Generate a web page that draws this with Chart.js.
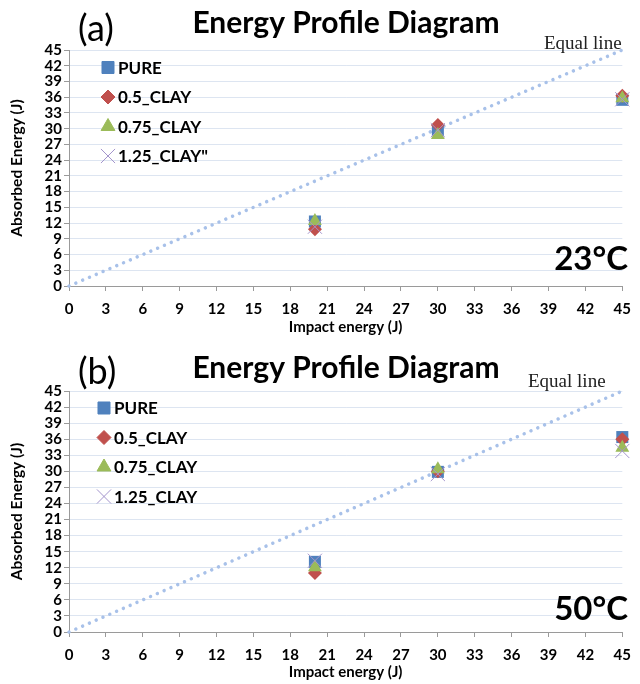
<!DOCTYPE html>
<html>
<head>
  <title>Energy Profile Diagram</title>
  <script src="https://cdn.jsdelivr.net/npm/chart.js@4.4.1/dist/chart.umd.min.js"></script>
  <style>
    body { margin: 0; background: #fff; }
    .wrap { position: relative; width: 640px; height: 684px; }
    canvas { position: absolute; left: 0; }
  </style>
</head>
<body>
<div class="wrap">
  <canvas id="chartA" width="640" height="342" style="top:0"></canvas>
  <canvas id="chartB" width="640" height="342" style="top:342px"></canvas>
</div>
<script>
// impact energy levels (x)
const impactEnergy = [20, 30, 45];

// (a) 23°C absorbed energy
const pureA    = [12.3, 29.7, 35.5];
const clay05A  = [10.8, 30.7, 36.3];
const clay075A = [12.4, 28.8, 35.8];
const clay125A = [11.3, 29.7, 35.6];

// (b) 50°C absorbed energy
const pureB    = [13.1, 29.9, 36.4];
const clay05B  = [11.0, 30.0, 36.0];
const clay075B = [12.1, 30.4, 34.4];
const clay125B = [13.3, 29.5, 33.8];

const equalLine = [0, 45];
const axisTicks = { min: 0, max: 45, step: 3 };

const FONT = 'Lato';

const seriesStyle = [
  { name: 'PURE',      style: 'rect',     color: '#4f81bd', r: 8.5, order: 4 },
  { name: '0.5_CLAY',  style: 'rectRot',  color: '#c0504d', r: 7,   order: 3 },
  { name: '0.75_CLAY', style: 'triangle', color: '#9bbb59', r: 8,   order: 2 },
  { name: '1.25_CLAY', style: 'crossRot', color: '#a394cc', r: 10,  order: 1 }
];

function pts(ys) {
  return impactEnergy.map((x, i) => ({ x: x, y: ys[i] }));
}

function drawMark(ctx, s, x, y) {
  ctx.save();
  ctx.fillStyle = s.color;
  ctx.strokeStyle = s.color;
  ctx.lineWidth = 1;
  Chart.helpers.drawPoint(ctx, { pointStyle: s.style, radius: s.r, rotation: 0, borderWidth: 1 }, x, y);
  ctx.restore();
}

// draws titles, tags, legend
const decoPlugin = {
  id: 'deco',
  afterDraw(chart, args, o) {
    const ctx = chart.ctx;
    ctx.save();
    ctx.fillStyle = '#000';
    ctx.textBaseline = 'middle';

    ctx.font = '36px ' + FONT;
    ctx.textAlign = 'left';
    ctx.fillText(o.tag, 78, o.tagY);

    ctx.font = 'bold 30px ' + FONT;
    ctx.textAlign = 'center';
    ctx.fillText('Energy Profile Diagram', 346, o.titleY);

    ctx.font = '19px "Liberation Serif"';
    ctx.textAlign = 'left';
    ctx.fillStyle = '#222';
    ctx.fillText('Equal line', o.eqX, o.eqY);

    ctx.font = 'bold 33px ' + FONT;
    ctx.textAlign = 'right';
    ctx.fillStyle = '#000';
    ctx.fillText(o.temp, 628, o.tempY);

    // legend
    ctx.font = 'bold 17px ' + FONT;
    ctx.textAlign = 'left';
    o.legend.forEach((txt, i) => {
      const s = seriesStyle[i];
      const y = o.legY + i * 29.5;
      drawMark(ctx, s, o.legX, y);
      ctx.fillStyle = '#000';
      ctx.fillText(txt, o.legX + 10, y + 1);
    });
    ctx.restore();
  }
};

function makeChart(id, sets, deco, layout) {
  const datasets = seriesStyle.map((s, i) => ({
    label: s.name,
    data: pts(sets[i]),
    pointStyle: s.style,
    pointRadius: s.r,
    pointHoverRadius: s.r,
    backgroundColor: s.color,
    borderColor: s.color,
    pointBorderWidth: s.style === 'crossRot' ? 1 : 0,
    showLine: false,
    clip: false,
    order: s.order
  }));
  datasets.push({
    type: 'line',
    label: 'Equal line',
    data: equalLine.map(v => ({ x: v, y: v })),
    borderColor: '#a8c1e9',
    borderWidth: 3.5,
    borderDash: [0.01, 7.4],
    borderCapStyle: 'round',
    pointRadius: 0,
    fill: false,
    clip: false,
    order: 5
  });

  return new Chart(document.getElementById(id), {
    type: 'scatter',
    data: { datasets: datasets },
    options: {
      responsive: false,
      animation: false,
      layout: { padding: { top: layout.top, right: 9, left: 0, bottom: 0 } },
      plugins: {
        legend: { display: false },
        tooltip: { enabled: false },
        deco: deco
      },
      scales: {
        x: {
          type: 'linear',
          min: axisTicks.min, max: axisTicks.max,
          afterFit: sc => { sc.height = layout.xh; },
          border: { color: '#9a9a9a', width: 1 },
          grid: { drawOnChartArea: false, tickLength: 5, tickColor: '#9a9a9a' },
          ticks: { stepSize: axisTicks.step, autoSkip: false, maxRotation: 0, padding: 9, color: '#000',
                   font: { family: FONT, size: 15, weight: 'bold' } },
          title: { display: true, text: 'Impact energy (J)', color: '#000',
                   padding: { top: 0, bottom: layout.xtPad },
                   font: { family: FONT, size: 15, weight: 'bold' } }
        },
        y: {
          type: 'linear',
          min: axisTicks.min, max: axisTicks.max,
          afterFit: sc => { sc.width = 69; },
          border: { color: '#9a9a9a', width: 1 },
          grid: { color: '#dde5f1', lineWidth: 1, tickLength: 5, tickColor: '#9a9a9a' },
          ticks: { stepSize: axisTicks.step, autoSkip: false, padding: 2, color: '#000',
                   font: { family: FONT, size: 15, weight: 'bold' } },
          title: { display: true, text: 'Absorbed Energy (J)', color: '#000',
                   padding: { top: 8, bottom: 0 },
                   font: { family: FONT, size: 15.5, weight: 'bold' } }
        }
      }
    },
    plugins: [decoPlugin]
  });
}

makeChart('chartA', [pureA, clay05A, clay075A, clay125A], {
  tag: '(a)', tagY: 29, titleY: 23, eqX: 544, eqY: 44, temp: '23°C', tempY: 259,
  legX: 108, legY: 67.5, legend: ['PURE', '0.5_CLAY', '0.75_CLAY', '1.25_CLAY"']
}, { top: 50, xh: 56, xtPad: 6 });

makeChart('chartB', [pureB, clay05B, clay075B, clay125B], {
  tag: '(b)', tagY: 30, titleY: 26, eqX: 528, eqY: 40, temp: '50°C', tempY: 267,
  legX: 104, legY: 66, legend: ['PURE', '0.5_CLAY', '0.75_CLAY', '1.25_CLAY']
}, { top: 49, xh: 52, xtPad: 3 });
</script>
</body>
</html>
